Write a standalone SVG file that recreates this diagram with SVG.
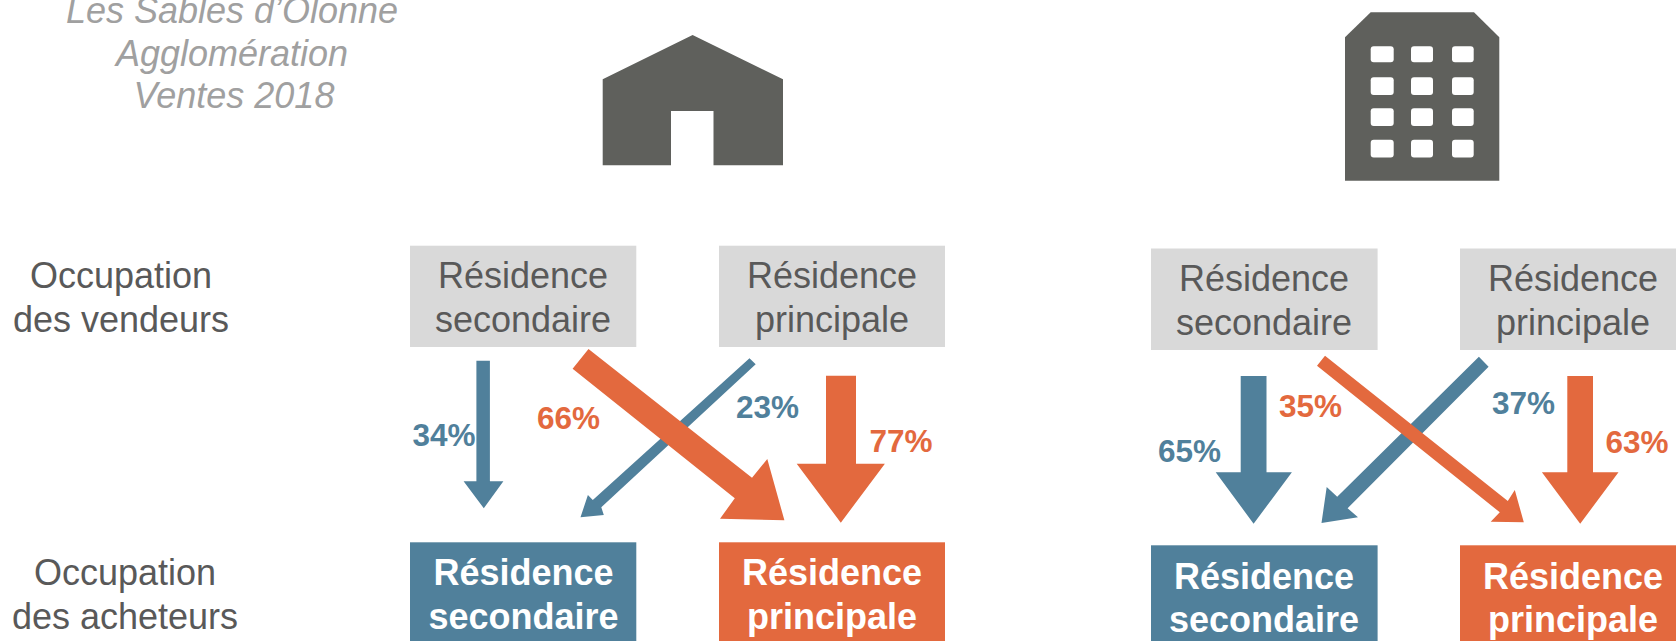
<svg xmlns="http://www.w3.org/2000/svg" width="1676" height="641" viewBox="0 0 1676 641">
<style>
text{font-family:"Liberation Sans",Arial,sans-serif;text-anchor:middle;font-size:36px}
.t{fill:#a0a0a0;font-style:italic}
.l{fill:#595959}
.w{fill:#fff;font-weight:bold}
.p{font-weight:bold;font-size:31.5px;text-anchor:start}
.b{fill:#50809b}
.o{fill:#e3693e}
.g{fill:#d9d9d9}
.i{fill:#5f605c}
.h{fill:#fff}
</style>
<rect width="1676" height="641" fill="#fff"/>
<g id="title"><text class="t" x="232" y="23">Les Sables d’Olonne</text><text class="t" x="232" y="66">Agglomération</text><text class="t" x="234" y="108">Ventes 2018</text></g>
<g id="icon-house"><path class="i" d="M602.7 79.3L692.6 35L783 79.3V165.3H713.5V111H671V165.3H602.7Z"/></g>
<g id="icon-building"><path class="i" d="M1370.7 12.3H1474L1499.3 37.3V180.7H1345V37.3Z"/>
<g class="h"><rect x="1370.7" y="46.3" width="23" height="16" rx="3"/><rect x="1411" y="46.3" width="22" height="16" rx="3"/><rect x="1452" y="46.3" width="21.7" height="16" rx="3"/><rect x="1370.7" y="77.3" width="23" height="17.7" rx="3"/><rect x="1411" y="77.3" width="22" height="17.7" rx="3"/><rect x="1452" y="77.3" width="21.7" height="17.7" rx="3"/><rect x="1370.7" y="108.3" width="23" height="17.7" rx="3"/><rect x="1411" y="108.3" width="22" height="17.7" rx="3"/><rect x="1452" y="108.3" width="21.7" height="17.7" rx="3"/><rect x="1370.7" y="139.7" width="23" height="17.7" rx="3"/><rect x="1411" y="139.7" width="22" height="17.7" rx="3"/><rect x="1452" y="139.7" width="21.7" height="17.7" rx="3"/></g></g>
<g id="row-vendeurs"><text class="l" x="121" y="288">Occupation</text><text class="l" x="121" y="332">des vendeurs</text></g>
<g id="row-acheteurs"><text class="l" x="125" y="585">Occupation</text><text class="l" x="125" y="629">des acheteurs</text></g>
<g id="seller-sec-left"><rect class="g" x="410" y="245.7" width="226.3" height="101.3"/><text class="l" x="523" y="288">Résidence</text><text class="l" x="523" y="332">secondaire</text></g>
<g id="seller-pri-left"><rect class="g" x="719" y="245.7" width="226" height="101.3"/><text class="l" x="832" y="288">Résidence</text><text class="l" x="832" y="332">principale</text></g>
<g id="buyer-sec-left"><rect class="b" x="410" y="542.3" width="226.3" height="98.7"/><text class="w" x="523.5" y="585">Résidence</text><text class="w" x="523.5" y="629">secondaire</text></g>
<g id="buyer-pri-left"><rect class="o" x="719" y="542.3" width="226" height="98.7"/><text class="w" x="832" y="585">Résidence</text><text class="w" x="832" y="629">principale</text></g>
<g id="seller-sec-right"><rect class="g" x="1151" y="248.5" width="226.6" height="101.5"/><text class="l" x="1264" y="291">Résidence</text><text class="l" x="1264" y="335">secondaire</text></g>
<g id="seller-pri-right"><rect class="g" x="1460" y="248.5" width="216" height="101.5"/><text class="l" x="1573" y="291">Résidence</text><text class="l" x="1573" y="335">principale</text></g>
<g id="buyer-sec-right"><rect class="b" x="1151" y="545.3" width="226.6" height="95.7"/><text class="w" x="1264" y="589">Résidence</text><text class="w" x="1264" y="632">secondaire</text></g>
<g id="buyer-pri-right"><rect class="o" x="1460" y="545.3" width="216" height="95.7"/><text class="w" x="1573" y="589">Résidence</text><text class="w" x="1573" y="632">principale</text></g>
<g id="connectors">
<path class="b" d="M476.4 360.7H489.9V481.3H503.4L483.8 508.3L463.6 481.3H476.4Z"/>
<path class="b" d="M749.5 358.3L755.7 364.3L601.3 507.3L603.8 515L580.5 517.3L587.9 495L592.8 500Z"/>
<path class="o" d="M588.5 349L752 477.7L767.3 459L784.4 520.3L720 518.7L734.8 498.3L572.6 368.7Z"/>
<path class="o" d="M826 375.7H856V463.7H884.9L840.8 522.7L796.7 463.7H826Z"/>
<path class="b" d="M1240.7 376H1266.5V472.3H1291.9L1253.6 523.7L1215.7 472.3H1240.7Z"/>
<path class="b" d="M1478.9 356.7L1488.6 366.7L1347.6 508.3L1358 517.3L1321.5 523L1326.7 487L1337.2 496.7Z"/>
<path class="o" d="M1325 355.7L1507.8 501L1514.8 490L1523.8 522.3L1490.7 521.7L1499.8 512.3L1317 365.7Z"/>
<path class="o" d="M1567.3 376H1593V472.3H1618.5L1580.2 523.7L1541.9 472.3H1567.3Z"/>
</g>
<g id="labels">
<text class="p" fill="#50809b" x="412.5" y="446">34%</text>
<text class="p" fill="#e3693e" x="537" y="428.5">66%</text>
<text class="p" fill="#50809b" x="736" y="417.5">23%</text>
<text class="p" fill="#e3693e" x="869.5" y="452">77%</text>
<text class="p" fill="#e3693e" x="1279" y="417">35%</text>
<text class="p" fill="#50809b" x="1158" y="462">65%</text>
<text class="p" fill="#50809b" x="1492" y="414">37%</text>
<text class="p" fill="#e3693e" x="1605.5" y="452.5">63%</text>
</g>
</svg>
